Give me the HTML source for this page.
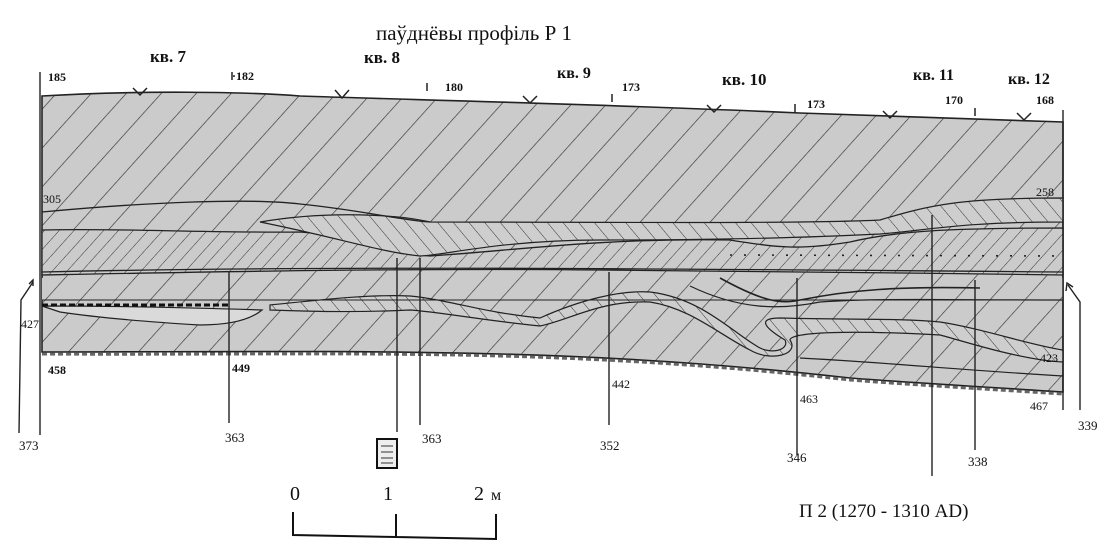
<!DOCTYPE html>
<html><head><meta charset="utf-8"><style>
html,body{margin:0;padding:0;background:#fff;}
svg{display:block;}
text{font-family:"Liberation Serif",serif;fill:#111;}
</style></head><body>
<svg width="1100" height="550" viewBox="0 0 1100 550" xmlns="http://www.w3.org/2000/svg">
<defs>
<pattern id="h1" patternUnits="userSpaceOnUse" width="26" height="26" patternTransform="rotate(42)">
<rect width="26" height="26" fill="#cbcbcb"/><line x1="0" y1="0" x2="0" y2="26" stroke="#333" stroke-width="1.3"/>
</pattern>
<pattern id="h2" patternUnits="userSpaceOnUse" width="11" height="11" patternTransform="rotate(42)">
<rect width="11" height="11" fill="#cbcbcb"/><line x1="0" y1="0" x2="0" y2="11" stroke="#333" stroke-width="1"/>
</pattern>
<pattern id="h3" patternUnits="userSpaceOnUse" width="12" height="12" patternTransform="rotate(-40)">
<rect width="12" height="12" fill="#cecece"/><line x1="0" y1="0" x2="0" y2="12" stroke="#333" stroke-width="1"/>
</pattern>
</defs>

<path d="M42,96 C140,90 250,92 300,96 C420,100 600,104 800,113 C900,117 1000,120 1063,122 L1063,392 C1000,388 900,382 850,378 C760,368 650,358 500,354 C350,350 200,352 42,352 Z" fill="url(#h1)" stroke="#222" stroke-width="1.6"/>

<path d="M42,230 C120,228 200,233 300,232 C360,236 400,254 430,256 C520,250 600,238 730,240 C780,248 800,250 850,242 C900,230 960,228 1063,228 L1063,275 C900,273 700,270 600,270 C400,268 200,272 42,275 Z" fill="url(#h2)" stroke="#222" stroke-width="1.3"/>
<path d="M42,278 L1063,278 L1063,300 L42,300 Z" fill="url(#h1)" stroke="none"/>

<path d="M260,222 C330,210 400,215 430,222 C600,222 800,224 880,220 C930,205 960,198 1063,198 L1063,222 C960,222 930,230 880,234 C800,238 700,240 600,240 C500,240 440,256 420,256 C380,252 340,238 260,222 Z" fill="url(#h3)" stroke="#222" stroke-width="1.2"/>

<path d="M270,305 C320,300 370,294 410,296 C450,300 480,312 540,318 C580,300 620,290 650,292 C700,298 730,330 755,345 C770,356 790,350 785,340 C760,325 760,318 780,318 C850,320 900,318 940,322 C980,328 1030,345 1063,350 L1063,362 C1020,360 960,340 940,335 C850,330 790,332 790,340 C800,355 770,362 750,350 C720,335 690,308 650,302 C600,300 570,320 540,326 C480,320 440,312 410,310 C370,312 320,312 270,310 Z" fill="url(#h3)" stroke="#222" stroke-width="1.2"/>

<path d="M42,306 C120,306 200,308 262,310 C250,320 230,325 200,325 C150,322 100,318 60,312 Z" fill="#dadada" stroke="#222" stroke-width="1.2"/>
<line x1="42" y1="305" x2="230" y2="305" stroke="#111" stroke-width="3" stroke-dasharray="6 3"/>

<path d="M42,212 C150,202 250,198 300,204 C360,210 400,220 430,222" fill="none" stroke="#222" stroke-width="1.3"/>
<path d="M42,272 C300,266 600,268 1063,272" fill="none" stroke="#222" stroke-width="1.3"/>
<path d="M42,300 C300,297 600,300 1063,300" fill="none" stroke="#222" stroke-width="1"/>
<path d="M730,255 L1063,256" fill="none" stroke="#222" stroke-width="1.6" stroke-dasharray="2 12"/>
<path d="M720,278 C760,300 780,305 800,300 C850,290 900,286 980,288" fill="none" stroke="#222" stroke-width="1.6"/>
<path d="M690,286 C740,310 780,310 820,302 C880,298 940,300 1063,300" fill="none" stroke="#222" stroke-width="1.2"/>
<path d="M800,358 C880,362 960,370 1063,376" fill="none" stroke="#222" stroke-width="1.2"/>
<path d="M42,354 C200,355 350,352 500,356 C650,360 760,370 850,380 C900,384 1000,390 1063,394" fill="none" stroke="#666" stroke-width="3" stroke-dasharray="5 3"/>

<g stroke="#222" stroke-width="1.5" fill="none">
<path d="M133,88 L140,95 L147,88"/><path d="M335,90 L342,98 L349,90"/><path d="M523,96 L530,103 L537,96"/>
<path d="M707,105 L714,112 L721,105"/><path d="M883,111 L890,118 L897,111"/><path d="M1017,113 L1024,120 L1031,113"/>
<line x1="232" y1="72" x2="232" y2="80"/><line x1="427" y1="83" x2="427" y2="91"/><line x1="612" y1="94" x2="612" y2="102"/>
<line x1="795" y1="104" x2="795" y2="112"/><line x1="975" y1="108" x2="975" y2="116"/>
</g>

<g stroke="#222" stroke-width="1.4" fill="none">
<line x1="40" y1="72" x2="40" y2="435"/>
<line x1="1063" y1="110" x2="1063" y2="410"/>
<line x1="229" y1="272" x2="229" y2="423"/>
<line x1="397" y1="258" x2="397" y2="432"/>
<line x1="420" y1="258" x2="420" y2="425"/>
<line x1="609" y1="272" x2="609" y2="425"/>
<line x1="797" y1="278" x2="797" y2="455"/>
<line x1="932" y1="215" x2="932" y2="476"/>
<line x1="975" y1="280" x2="975" y2="450"/>
<path d="M19,433 L21,300 L33,282"/><path d="M29,284 L33,280 L33,286" />
<path d="M1080,410 L1080,302 L1068,285"/><path d="M1066,291 L1067,283 L1073,287"/>
</g>

<g stroke="#111" stroke-width="2" fill="none">
<path d="M293,512 L293,535 L396,537 L396,514 M396,537 L496,539 L496,514"/>
</g>
<rect x="377" y="439" width="20" height="29" fill="#eee" stroke="#111" stroke-width="2"/>
<g stroke="#333" stroke-width="1"><line x1="381" y1="446" x2="393" y2="446"/><line x1="381" y1="452" x2="393" y2="452"/><line x1="381" y1="458" x2="393" y2="458"/><line x1="381" y1="463" x2="393" y2="463"/></g>

<text x="376" y="40" font-size="21">паўднёвы профіль Р 1</text>
<text x="150" y="62" font-size="17" font-weight="bold">кв. 7</text>
<text x="364" y="63" font-size="17" font-weight="bold">кв. 8</text>
<text x="557" y="78" font-size="16" font-weight="bold">кв. 9</text>
<text x="722" y="85" font-size="17" font-weight="bold">кв. 10</text>
<text x="913" y="80" font-size="16" font-weight="bold">кв. 11</text>
<text x="1008" y="84" font-size="16" font-weight="bold">кв. 12</text>
<g font-size="12" font-weight="bold">
<text x="48" y="81">185</text><text x="232" y="80">·182</text><text x="445" y="91">180</text>
<text x="622" y="91">173</text><text x="807" y="108">173</text><text x="945" y="104">170</text><text x="1036" y="104">168</text>
</g>
<g font-size="12">
<text x="43" y="203">305</text><text x="1036" y="196">258</text>
<text x="21" y="328">427</text><text x="1040" y="362">423</text>
<text x="48" y="374" font-weight="bold">458</text><text x="232" y="372" font-weight="bold">449</text>
<text x="612" y="388">442</text><text x="800" y="403">463</text><text x="1030" y="410">467</text>
<text x="19" y="450" font-size="13">373</text><text x="225" y="442" font-size="13">363</text>
<text x="422" y="443" font-size="13">363</text><text x="600" y="450" font-size="13">352</text>
<text x="787" y="462" font-size="13">346</text><text x="968" y="466" font-size="13">338</text>
<text x="1078" y="430" font-size="13">339</text>
</g>
<text x="290" y="500" font-size="20">0</text>
<text x="383" y="500" font-size="20">1</text>
<text x="474" y="500" font-size="20">2</text><text x="491" y="500" font-size="16">м</text>
<text x="799" y="517" font-size="19">П 2 (1270 - 1310 AD)</text>
</svg>
</body></html>
